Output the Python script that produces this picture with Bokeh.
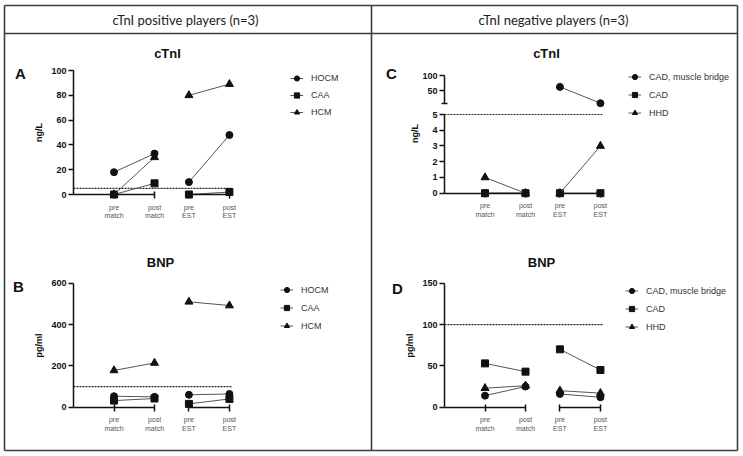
import math
from bokeh.plotting import figure
from bokeh.models import Range1d, LinearAxis, FixedTicker, Label, Legend, LegendItem
from bokeh.embed import file_html
from bokeh.resources import INLINE

# ---------------- data ----------------
categories = ["pre\nmatch", "post\nmatch", "pre\nEST", "post\nEST"]
group_titles = ["cTnI positive players (n=3)", "cTnI negative players (n=3)"]

pos_labels = ["HOCM", "CAA", "HCM"]
pos_ctni_hocm = [18, 33, 10, 48]
pos_ctni_caa = [0, 9, 0, 2]
pos_ctni_hcm = [0, 30, 80, 89]
pos_bnp_hocm = [53, 50, 60, 64]
pos_bnp_caa = [32, 42, 16, 40]
pos_bnp_hcm = [178, 214, 510, 492]

neg_labels = ["CAD, muscle bridge", "CAD", "HHD"]
neg_ctni_cadmb = [0, 0, 63, 10]
neg_ctni_cad = [0, 0, 0, 0]
neg_ctni_hhd = [1, 0, 0, 3]
neg_bnp_cadmb = [14, 25, 16, 12]
neg_bnp_cad = [53, 43, 70, 45]
neg_bnp_hhd = [23, 26, 20, 17]

ctni_cutoff = 5
bnp_cutoff = 100

ctni_ticks_pos = [0, 20, 40, 60, 80, 100]
bnp_ticks_pos = [0, 200, 400, 600]
ctni_ticks_neg_low = [0, 1, 2, 3, 4, 5]
ctni_ticks_neg_high = [50, 100]
bnp_ticks_neg = [0, 50, 100, 150]

# ---------------- layout / style ----------------
W, H = 743, 456
CAT_X = [1.0, 2.0, 2.85, 3.85]
UNIT = 40.5
CUT_END = 3.9
MARKERS = ["circle", "square", "triangle"]
SIZES = [7, 7, 8]
FONT = "Liberation Sans"
HEAD_FONT = "Lato"
INK = "#111111"
LINE = "#555555"
BORDER = "#3c3c3c"

p = figure(width=W, height=H, x_range=Range1d(0, W), y_range=Range1d(H, 0),
           toolbar_location=None, output_backend="svg",
           x_axis_type=None, y_axis_type=None, min_border=0,
           outline_line_color=None)
p.background_fill_color = "white"
p.border_fill_color = "white"

# table borders
bx0, bx1, bmid = 4, 737, 371
by0, bhead, by1 = 5, 33, 450
p.segment(x0=[bx0, bx0, bx0, bx0, bx1, bmid], y0=[by0, bhead, by1, by0, by0, by0],
          x1=[bx1, bx1, bx1, bx0, bx1, bmid], y1=[by0, bhead, by1, by1, by1, by1],
          line_color=BORDER, line_width=1.6)

for t, cx in zip(group_titles, [185, 553]):
    p.add_layout(Label(x=cx, y=19.5, text=t, text_align="center", text_baseline="middle",
                       text_font=HEAD_FONT, text_font_size="13px", text_color="#222222"))


def xrng(px0):
    return Range1d(start=-px0 / UNIT, end=(W - px0) / UNIT)


def yrng(v0, py0, v1, py1):
    s = (v1 - v0) / (py0 - py1)
    return Range1d(start=v0 - (H - py0) * s, end=v0 + py0 * s)


def style_y(ax):
    ax.axis_line_width = 1.5
    ax.axis_line_color = INK
    ax.major_tick_out = 5
    ax.major_tick_in = 0
    ax.major_tick_line_width = 1.5
    ax.major_tick_line_color = INK
    ax.minor_tick_in = 3
    ax.minor_tick_out = 3
    ax.minor_tick_line_width = 1.5
    ax.minor_tick_line_color = INK
    ax.major_label_standoff = 2
    ax.major_label_text_font = FONT
    ax.major_label_text_font_size = "9px"
    ax.major_label_text_font_style = "bold"
    ax.major_label_text_color = INK
    ax.axis_label_text_font = FONT
    ax.axis_label_text_font_size = "9px"
    ax.axis_label_text_font_style = "bold"
    ax.axis_label_text_color = INK
    ax.axis_label_standoff = 4


def style_x(ax):
    ax.axis_line_width = 1.5
    ax.axis_line_color = INK
    ax.major_tick_out = 4
    ax.major_tick_in = 3
    ax.major_tick_line_width = 1.5
    ax.major_tick_line_color = INK
    ax.minor_tick_line_color = None
    ax.major_label_standoff = 5
    ax.major_label_text_font = FONT
    ax.major_label_text_font_size = "7px"
    ax.major_label_text_color = "#555555"


def panel(key, px0, segs, series, labels, cutoff, ylabel, ylabel_xy,
          title, title_xy, letter, letter_xy, legend_x, legend_yc, pitch):
    xn = "x" + key
    p.extra_x_ranges[xn] = xrng(px0)
    names = []
    for i, s in enumerate(segs):
        yn = "y%s%d" % (key, i)
        names.append(yn)
        p.extra_y_ranges[yn] = yrng(*s["map"])
        ya = LinearAxis(x_range_name=xn, y_range_name=yn, fixed_location=0,
                        bounds=s["bounds"],
                        ticker=FixedTicker(ticks=s["ticks"], minor_ticks=s.get("minor", [])))
        style_y(ya)
        if ylabel_xy is None and i == 0:
            ya.axis_label = ylabel
        p.add_layout(ya, "left")
    # x axis in two pieces
    for a, idx in [(0, [0, 1]), (CAT_X[2], [2, 3])]:
        xa = LinearAxis(x_range_name=xn, y_range_name=names[0], fixed_location=0,
                        bounds=(a, CAT_X[idx[-1]]),
                        ticker=FixedTicker(ticks=[CAT_X[i] for i in idx]),
                        major_label_overrides={CAT_X[i]: categories[i] for i in idx})
        style_x(xa)
        p.add_layout(xa, "below")
    # cutoff line
    p.line(x=[0, CUT_END], y=[cutoff, cutoff], x_range_name=xn, y_range_name=names[0],
           line_color="#222222", line_width=1.2, line_dash="2 1")
    items = []
    for k, (vals, lab) in enumerate(zip(series, labels)):
        first = None
        for pair in [(0, 1), (2, 3)]:
            pv = [vals[j] for j in pair]
            si = 0
            for i, s in enumerate(segs):
                if min(pv) >= s["bounds"][0] and i > 0:
                    si = i
            xs = [CAT_X[j] for j in pair]
            lr = p.line(x=xs, y=pv, x_range_name=xn, y_range_name=names[si],
                        line_color=LINE, line_width=1)
            sr = p.scatter(x=xs, y=pv, x_range_name=xn, y_range_name=names[si],
                           marker=MARKERS[k], size=SIZES[k], fill_color=INK,
                           line_color=INK)
            if first is None:
                first = [lr, sr]
        items.append(LegendItem(label=lab, renderers=first))
    gh = pitch - 1
    n = len(items)
    top = legend_yc - gh / 2
    bottom = top + n * gh + (n - 1)
    leg = Legend(items=items, location=(legend_x, H - bottom), padding=0, margin=0,
                 spacing=1, glyph_height=gh, label_height=gh, glyph_width=13,
                 label_standoff=8, border_line_color=None, background_fill_alpha=0,
                 label_text_font=FONT, label_text_font_size="9px",
                 label_text_color="#333333")
    p.add_layout(leg)
    p.add_layout(Label(x=title_xy[0], y=title_xy[1], text=title, text_align="center",
                       text_baseline="middle", text_font=FONT, text_font_size="13px",
                       text_font_style="bold", text_color=INK))
    p.add_layout(Label(x=letter_xy[0], y=letter_xy[1], text=letter, text_align="center",
                       text_baseline="middle", text_font=FONT, text_font_size="15px",
                       text_font_style="bold", text_color=INK))
    if ylabel_xy is not None:
        p.add_layout(Label(x=ylabel_xy[0], y=ylabel_xy[1], text=ylabel, angle=math.pi / 2,
                           text_align="center", text_baseline="middle", text_font=FONT,
                           text_font_size="9px", text_font_style="bold", text_color=INK))


panel("A", 73,
      [dict(map=(0, 194, 100, 70), bounds=(0, 100), ticks=ctni_ticks_pos)],
      [pos_ctni_hocm, pos_ctni_caa, pos_ctni_hcm], pos_labels, ctni_cutoff,
      "ng/L", None, "cTnI", (167, 53), "A", (20, 73), 290, 77.7, 17)

panel("B", 73,
      [dict(map=(0, 406.7, 600, 282.7), bounds=(0, 600), ticks=bnp_ticks_pos)],
      [pos_bnp_hocm, pos_bnp_caa, pos_bnp_hcm], pos_labels, bnp_cutoff,
      "pg/ml", None, "BNP", (160, 262), "B", (18, 286), 280, 289.5, 18)

panel("C", 444,
      [dict(map=(0, 192.7, 5, 114), bounds=(0, 5), ticks=ctni_ticks_neg_low),
       dict(map=(10, 102.7, 100, 75), bounds=(10, 100), ticks=ctni_ticks_neg_high, minor=[10])],
      [neg_ctni_cadmb, neg_ctni_cad, neg_ctni_hhd], neg_labels, ctni_cutoff,
      "ng/L", (414, 133), "cTnI", (546, 53), "C", (391, 73), 628, 76.5, 18)

panel("D", 444,
      [dict(map=(0, 406.7, 150, 282.7), bounds=(0, 150), ticks=bnp_ticks_neg)],
      [neg_bnp_cadmb, neg_bnp_cad, neg_bnp_hhd], neg_labels, bnp_cutoff,
      "pg/ml", None, "BNP", (541, 262), "D", (397, 288), 625, 290.5, 18)

open("out.html", "w").write(file_html(p, INLINE))
